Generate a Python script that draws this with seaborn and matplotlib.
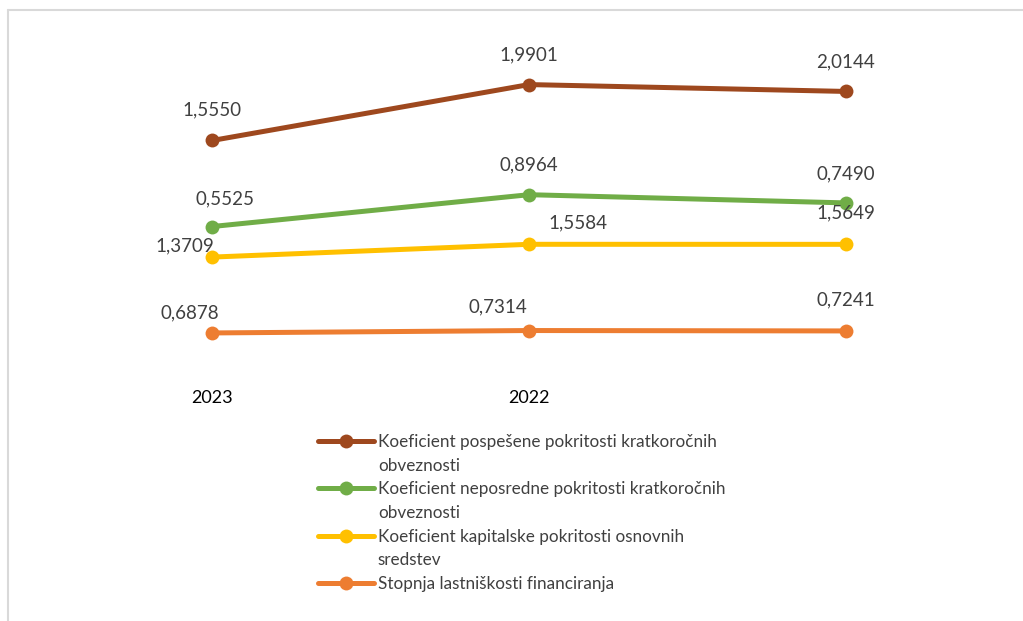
import numpy as np
import pandas as pd
import seaborn as sns
import matplotlib.pyplot as plt
from matplotlib.lines import Line2D

# Data (values as labelled; the chart stacks the series)
categories = ['2023', '2022', '']
series = [
    'Stopnja lastniškosti financiranja',
    'Koeficient kapitalske pokritosti osnovnih sredstev',
    'Koeficient neposredne pokritosti kratkoročnih obveznosti',
    'Koeficient pospešene pokritosti kratkoročnih obveznosti',
]
stopnja = [0.6878, 0.7314, 0.7241]
kapitalske = [1.3709, 1.5584, 1.5649]
neposredne = [0.5525, 0.8964, 0.7490]
pospesene = [1.5550, 1.9901, 2.0144]

colors = ['#ED7D31', '#FFC000', '#70AD47', '#9E481E']

# label offsets in pixels (dx, dy) per series / category
offsets = [
    [(-23, 20), (-31, 24), (0, 31)],
    [(-28, 11), (49, 21), (0, 31)],
    [(13, 28), (0, 30), (0, 29)],
    [(0, 31), (0, 30), (0, 30)],
]

values = np.array([stopnja, kapitalske, neposredne, pospesene])
stacked = np.cumsum(values, axis=0)

rows = []
for i, name in enumerate(series):
    for j in range(len(categories)):
        rows.append({'series': name, 'pos': j, 'value': values[i, j], 'cum': stacked[i, j]})
df = pd.DataFrame(rows)

sns.set_theme(style='white')
plt.rcParams['font.family'] = ['Lato', 'DejaVu Sans']

fig = plt.figure(figsize=(10.23, 6.21), dpi=100)
ax = fig.add_axes([54 / 1023, 1 - 371 / 621, 950 / 1023, 332 / 621])

sns.lineplot(data=df, x='pos', y='cum', hue='series', hue_order=series,
             palette=colors, marker='o', markersize=10, markeredgewidth=0,
             linewidth=3.6, legend=False, ax=ax, solid_capstyle='round')

for i in range(len(series)):
    for j in range(len(categories)):
        txt = f'{values[i, j]:.4f}'.replace('.', ',')
        dx, dy = offsets[i][j]
        ax.annotate(txt, (j, stacked[i, j]), xytext=(dx, dy), textcoords='offset pixels',
                    ha='center', va='center', fontsize=13.5, color='#404040')

ax.set_xlim(-0.5, 2.5)
ax.set_ylim(0, 6)
ax.set_xticks(range(len(categories)))
ax.set_xticklabels(categories, fontsize=13, color='black')
ax.tick_params(axis='x', length=0, pad=14)
ax.set_yticks([])
ax.set_xlabel('')
ax.set_ylabel('')
for s in ax.spines.values():
    s.set_visible(False)

# legend: handle on first line, continuation lines without handles
leg_labels = [
    'Koeficient pospešene pokritosti kratkoročnih', 'obveznosti',
    'Koeficient neposredne pokritosti kratkoročnih', 'obveznosti',
    'Koeficient kapitalske pokritosti osnovnih', 'sredstev',
    'Stopnja lastniškosti financiranja',
]
leg_colors = [colors[3], None, colors[2], None, colors[1], None, colors[0]]
handles = []
for c in leg_colors:
    if c is None:
        handles.append(Line2D([], [], color='none'))
    else:
        handles.append(Line2D([], [], color=c, linewidth=3.6, marker='o',
                              markersize=10, markeredgewidth=0))
fig.legend(handles, leg_labels, loc='upper left', bbox_to_anchor=(318 / 1023, 1 - 434 / 621),
           frameon=False, fontsize=12.3, labelcolor='#404040', handlelength=3.28,
           handletextpad=0.23, labelspacing=0.45, borderpad=0, borderaxespad=0)

# chart border (top and left visible)
fig.add_artist(Line2D([8 / 1023, 1.0], [1 - 10 / 621, 1 - 10 / 621], color='#D9D9D9', linewidth=1.5))
fig.add_artist(Line2D([8 / 1023, 8 / 1023], [0, 1 - 10 / 621], color='#D9D9D9', linewidth=1.5))

fig.savefig('out.png', dpi=100)
